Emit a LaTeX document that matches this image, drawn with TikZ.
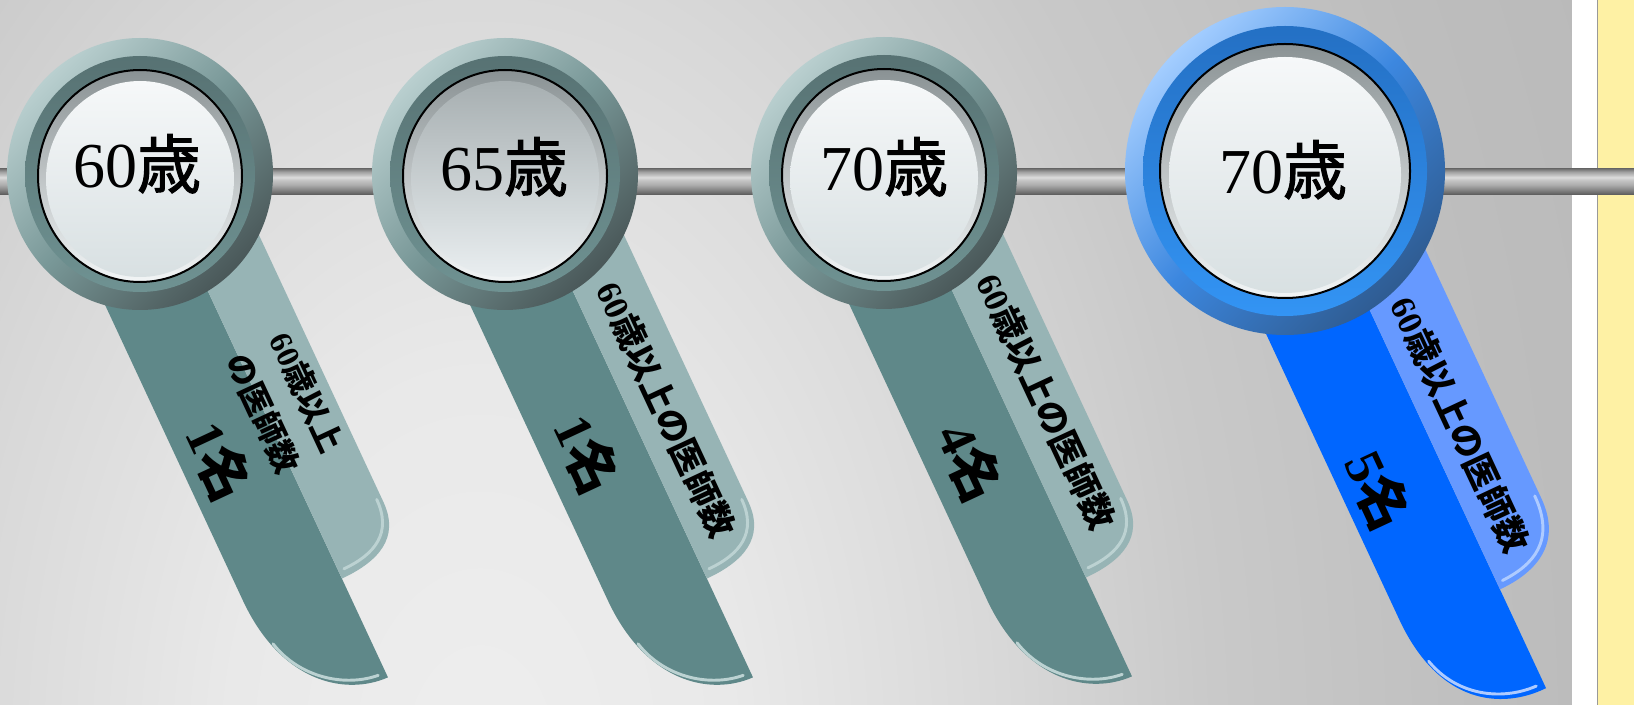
\documentclass[tikz,border=0pt]{standalone}
\usepackage{fontspec}
\setmainfont{Liberation Serif}
\newfontfamily\jpfont{Noto Sans CJK JP}
\newfontfamily\jpmid{Noto Sans CJK JP}[FakeBold=1.6]
\newcommand{\jp}[1]{{\jpfont\bfseries #1}}

\definecolor{bg0}{HTML}{EEEEEE}
\definecolor{bg1}{HTML}{E9E9E9}
\definecolor{bg2}{HTML}{D8D8D8}
\definecolor{bg3}{HTML}{C9C9C9}
\definecolor{bg4}{HTML}{BDBDBD}
\definecolor{bg5}{HTML}{B7B7B7}
\definecolor{bg6}{HTML}{B3B3B3}
\definecolor{rod0}{HTML}{5C5C5C}
\definecolor{rod1}{HTML}{878787}
\definecolor{rod2}{HTML}{ADADAD}
\definecolor{rod3}{HTML}{C6C6C6}
\definecolor{rod4}{HTML}{DDDDDD}
\definecolor{rod5}{HTML}{C2C2C2}
\definecolor{rod6}{HTML}{A0A0A0}
\definecolor{rod7}{HTML}{6C6C6C}
\definecolor{notepad}{HTML}{FEF1A4}
\definecolor{tealdark}{HTML}{5F8889}
\definecolor{teallight}{HTML}{97B4B5}
\definecolor{tealhi}{HTML}{BCD2D2}
\definecolor{bluedark}{HTML}{0066FF}
\definecolor{bluelight}{HTML}{6699FF}
\definecolor{bluehi}{HTML}{AECBFF}
\definecolor{ringlt}{HTML}{B9CFCF}
\definecolor{ringmd}{HTML}{789797}
\definecolor{ringdk}{HTML}{4A5859}
\definecolor{bandtop}{HTML}{577273}
\definecolor{bandbot}{HTML}{6F9292}
\definecolor{bringlt}{HTML}{A3CDFF}
\definecolor{bringmd}{HTML}{3C87DF}
\definecolor{bringdk}{HTML}{2F5C92}
\definecolor{bbandtop}{HTML}{2470C4}
\definecolor{bbandbot}{HTML}{3394F4}
\definecolor{rimtop}{HTML}{8A9294}
\definecolor{rimbot}{HTML}{F2F5F6}
\definecolor{glosstop}{HTML}{F6F8F9}
\definecolor{glossbot}{HTML}{D8E0E2}
\definecolor{greytop}{HTML}{A7AFB1}
\definecolor{greybot}{HTML}{E9EEF0}

\pgfdeclareradialshading{bgglow}{\pgfpoint{0bp}{0bp}}{color(0bp)=(bg0); color(3bp)=(bg1); color(6.25bp)=(bg2); color(8.75bp)=(bg3); color(12.5bp)=(bg4); color(16.5bp)=(bg5); color(25bp)=(bg6); color(50bp)=(bg6)}
\pgfdeclareverticalshading{rodshade}{100bp}{color(0bp)=(rod0); color(25bp)=(rod0); color(34.5bp)=(rod1); color(43.75bp)=(rod2); color(53bp)=(rod3); color(58bp)=(rod4); color(62.5bp)=(rod5); color(68.75bp)=(rod6); color(75bp)=(rod7); color(100bp)=(rod7)}

\begin{document}
\begin{tikzpicture}[x=0.75pt, y=-0.75pt,
  agetext/.style={font=\fontsize{48}{48}\selectfont, anchor=base, inner sep=0pt},
  labeltext/.style={font=\fontsize{26}{26}\selectfont\bfseries, rotate=-65, inner sep=0pt},
  counttext/.style={font=\fontsize{40}{40}\selectfont\bfseries, rotate=-65, inner sep=0pt},
  ringout/.style={top color=ringlt, bottom color=ringdk, middle color=ringmd, shading angle=45},
  ringband/.style={top color=bandtop, bottom color=bandbot},
  bluering/.style={top color=bringlt, bottom color=bringdk, middle color=bringmd, shading angle=45},
  blueband/.style={top color=bbandtop, bottom color=bbandbot},
  discface/.style={draw=black, line width=1.5pt, top color=rimtop, bottom color=rimbot},
  gloss/.style={top color=glosstop, bottom color=glossbot},
  shine/.style={line width=2.2pt, line cap=round}]
\useasboundingbox (0,0) rectangle (1634,705);

\begin{scope}
  \clip (0,0) rectangle (1572,705);
  \shade[shading=bgglow] (-1620,-2440) rectangle (2580,3960);
\end{scope}
\fill[white] (1572,0) rectangle (1597,705);
\fill[notepad] (1597,0) rectangle (1634,705);
\draw[gray!80, line width=0.8pt] (1597.5,0) -- (1597.5,705);
\shade[shading=rodshade] (0,168.5) rectangle (1634,194.5);

\begin{scope}[shift={(140,174)}, rotate=25]
  \fill[tealdark] (-87,0) -- (-87,430) .. controls (-87,520) and (-35,560) .. (12,561) -- (12,0) -- cycle;
  \fill[teallight] (12,0) -- (82,0) -- (82,400) .. controls (82,440) and (52,452) .. (12,452) -- cycle;
  \draw[shine, tealhi] (-78,482) .. controls (-68,525) and (-30,552) .. (4,555);
  \draw[shine, tealhi] (77,395) .. controls (77,432) and (52,444) .. (18,444);
\end{scope}
\begin{scope}[shift={(505,174)}, rotate=25]
  \fill[tealdark] (-87,0) -- (-87,430) .. controls (-87,520) and (-35,560) .. (12,561) -- (12,0) -- cycle;
  \fill[teallight] (12,0) -- (82,0) -- (82,400) .. controls (82,440) and (52,452) .. (12,452) -- cycle;
  \draw[shine, tealhi] (-78,482) .. controls (-68,525) and (-30,552) .. (4,555);
  \draw[shine, tealhi] (77,395) .. controls (77,432) and (52,444) .. (18,444);
\end{scope}
\begin{scope}[shift={(884,173)}, rotate=25]
  \fill[tealdark] (-87,0) -- (-87,430) .. controls (-87,520) and (-35,560) .. (12,561) -- (12,0) -- cycle;
  \fill[teallight] (12,0) -- (82,0) -- (82,400) .. controls (82,440) and (52,452) .. (12,452) -- cycle;
  \draw[shine, tealhi] (-78,482) .. controls (-68,525) and (-30,552) .. (4,555);
  \draw[shine, tealhi] (77,395) .. controls (77,432) and (52,444) .. (18,444);
\end{scope}
\begin{scope}[shift={(1285,171)}, rotate=25]
  \fill[bluedark] (-86,0) -- (-86,455) .. controls (-86,548) and (-32,580) .. (18,579) -- (18,0) -- cycle;
  \fill[bluelight] (18,0) -- (94,0) -- (94,405) .. controls (94,452) and (62,470) .. (18,470) -- cycle;
  \draw[shine, bluehi] (-77,505) .. controls (-66,548) and (-28,572) .. (10,573);
  \draw[shine, bluehi] (89,400) .. controls (89,450) and (58,462) .. (24,463);
\end{scope}

\shade[ringout] (140,174) ellipse [x radius=133, y radius=136];
\shade[ringband] (140,174) ellipse [x radius=115, y radius=118];
\shade[discface] (140,176) ellipse [x radius=102, y radius=106];
\shade[gloss] (140,179) ellipse [x radius=94, y radius=98];

\shade[ringout] (505,174) ellipse [x radius=133, y radius=136];
\shade[ringband] (505,174) ellipse [x radius=115, y radius=118];
\shade[discface] (505,176) ellipse [x radius=102, y radius=106];
\shade[top color=greytop, bottom color=greybot] (505,179) ellipse [x radius=94, y radius=98];

\shade[ringout] (884,173) ellipse [x radius=133, y radius=136];
\shade[ringband] (884,173) ellipse [x radius=115, y radius=118];
\shade[discface] (884,175) ellipse [x radius=102, y radius=106];
\shade[gloss] (884,178) ellipse [x radius=94, y radius=98];

\shade[bluering] (1285,171) ellipse [x radius=160, y radius=164];
\shade[blueband] (1285,171) ellipse [x radius=142, y radius=145];
\shade[discface] (1285,171) ellipse [x radius=125, y radius=127];
\shade[gloss] (1285,175) ellipse [x radius=116, y radius=118];

\node[agetext] (age1) at (137,188) {60{\jpmid 歳}};
\node[agetext] (age2) at (504,191) {65{\jpmid 歳}};
\node[agetext] (age3) at (884,191) {70{\jpmid 歳}};
\node[agetext] (age4) at (1283,194) {70{\jpmid 歳}};

\node[labeltext, font=\fontsize{24}{36}\selectfont\bfseries, align=center] (lab1) at (285,403) {60\jp{歳以上}\\\jp{の医師数}};
\node[counttext] (num1) at (220,461) {1\jp{名}};
\node[labeltext] (lab2) at (666,410) {60\jp{歳以上の医師数}};
\node[counttext] (num2) at (588,454) {1\jp{名}};
\node[labeltext] (lab3) at (1046,402) {60\jp{歳以上の医師数}};
\node[counttext] (num3) at (971,462) {4\jp{名}};
\node[labeltext] (lab4) at (1460,425) {60\jp{歳以上の医師数}};
\node[counttext] (num4) at (1379,490) {5\jp{名}};
\end{tikzpicture}
\end{document}
